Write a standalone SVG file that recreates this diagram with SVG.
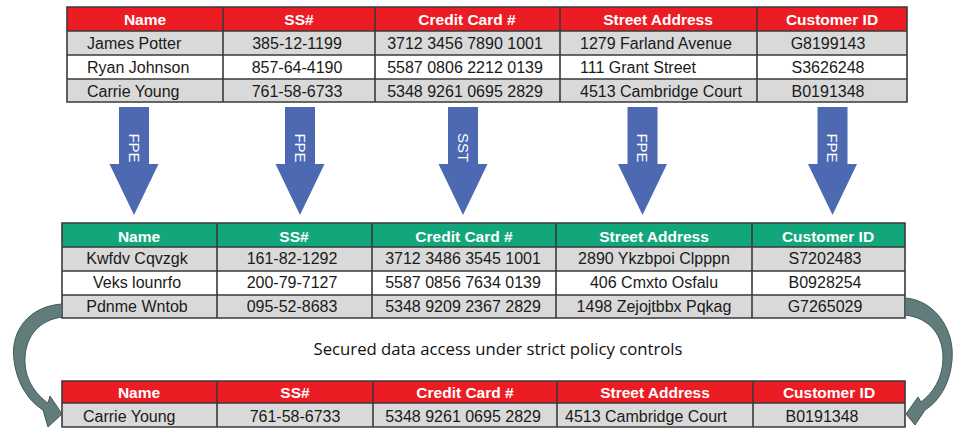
<svg xmlns="http://www.w3.org/2000/svg" width="958" height="428" viewBox="0 0 958 428">
<style>
.hdr-red{fill:#ec1c24}
.hdr-grn{fill:#12a67b}
.gray{fill:#d9d9d9}
.white{fill:#ffffff}
.grid{stroke:#3a3a3a;stroke-width:1.6;fill:none}
.ht{font-family:"Liberation Sans",Arial,sans-serif;font-weight:bold;font-size:15.5px;fill:#ffffff;text-anchor:middle}
.td{font-family:"Liberation Sans",Arial,sans-serif;font-size:16px;fill:#1a1a1a}
.c{text-anchor:middle}
.l{text-anchor:start}
.blue{fill:#4d69b2}
.lbl{font-family:"Liberation Sans",Arial,sans-serif;font-size:15px;fill:#ffffff;text-anchor:middle;dominant-baseline:central}
.curve{fill:#617c7a;stroke:#3f5b5a;stroke-width:1}
.cap{font-family:"Open Sans","Liberation Sans",sans-serif;font-size:16px;fill:#111111;text-anchor:middle}
</style>
<defs>
<path id="down" d="M -15 107 L 15 107 L 15 164 L 24.5 164 L 0 215 L -24.5 164 L -15 164 Z"/>
</defs>

<g id="table-original">
<rect class="hdr-red" x="67" y="7" width="840" height="24"/>
<rect class="gray" x="67" y="31" width="840" height="24"/>
<rect class="white" x="67" y="55" width="840" height="24"/>
<rect class="gray" x="67" y="79" width="840" height="23"/>
<path class="grid" d="M67 7H907V102H67Z M67 31H907 M67 55H907 M67 79H907 M223 7V102 M375 7V102 M560 7V102 M757 7V102"/>
<text class="ht" x="145" y="25">Name</text>
<text class="ht" x="299" y="25">SS#</text>
<text class="ht" x="467" y="25">Credit Card #</text>
<text class="ht" x="658" y="25">Street Address</text>
<text class="ht" x="832" y="25">Customer ID</text>
<text class="td l" x="87" y="49">James Potter</text>
<text class="td c" x="297" y="49">385-12-1199</text>
<text class="td c" x="465" y="49">3712 3456 7890 1001</text>
<text class="td l" x="580" y="49">1279 Farland Avenue</text>
<text class="td c" x="828" y="49">G8199143</text>
<text class="td l" x="87" y="73">Ryan Johnson</text>
<text class="td c" x="297" y="73">857-64-4190</text>
<text class="td c" x="465" y="73">5587 0806 2212 0139</text>
<text class="td l" x="580" y="73">111 Grant Street</text>
<text class="td c" x="828" y="73">S3626248</text>
<text class="td l" x="87" y="97">Carrie Young</text>
<text class="td c" x="297" y="97">761-58-6733</text>
<text class="td c" x="465" y="97">5348 9261 0695 2829</text>
<text class="td l" x="580" y="97">4513 Cambridge Court</text>
<text class="td c" x="828" y="97">B0191348</text>
</g>

<g id="table-protected">
<rect class="hdr-grn" x="62" y="223" width="843" height="24"/>
<rect class="gray" x="62" y="247" width="843" height="24"/>
<rect class="white" x="62" y="271" width="843" height="24"/>
<rect class="gray" x="62" y="295" width="843" height="23"/>
<path class="grid" d="M62 223H905V318H62Z M62 247H905 M62 271H905 M62 295H905 M217 223V318 M372 223V318 M556 223V318 M752 223V318"/>
<text class="ht" x="139" y="242">Name</text>
<text class="ht" x="294" y="242">SS#</text>
<text class="ht" x="464" y="242">Credit Card #</text>
<text class="ht" x="654" y="242">Street Address</text>
<text class="ht" x="828" y="242">Customer ID</text>
<text class="td c" x="137" y="264">Kwfdv Cqvzgk</text>
<text class="td c" x="292" y="264">161-82-1292</text>
<text class="td c" x="463" y="264">3712 3486 3545 1001</text>
<text class="td c" x="654" y="264">2890 Ykzbpoi Clpppn</text>
<text class="td c" x="825" y="264">S7202483</text>
<text class="td c" x="137" y="288">Veks lounrfo</text>
<text class="td c" x="292" y="288">200-79-7127</text>
<text class="td c" x="463" y="288">5587 0856 7634 0139</text>
<text class="td c" x="654" y="288">406 Cmxto Osfalu</text>
<text class="td c" x="825" y="288">B0928254</text>
<text class="td c" x="137" y="312">Pdnme Wntob</text>
<text class="td c" x="292" y="312">095-52-8683</text>
<text class="td c" x="463" y="312">5348 9209 2367 2829</text>
<text class="td c" x="654" y="312">1498 Zejojtbbx Pqkag</text>
<text class="td c" x="825" y="312">G7265029</text>
</g>

<g id="table-access">
<rect class="hdr-red" x="62" y="381" width="843" height="22"/>
<rect class="gray" x="62" y="403" width="843" height="24"/>
<path class="grid" d="M62 381H905V427H62Z M62 403H905 M217 381V427 M373 381V427 M557 381V427 M753 381V427"/>
<text class="ht" x="139" y="398">Name</text>
<text class="ht" x="295" y="398">SS#</text>
<text class="ht" x="465" y="398">Credit Card #</text>
<text class="ht" x="655" y="398">Street Address</text>
<text class="ht" x="829" y="398">Customer ID</text>
<text class="td l" x="83" y="422">Carrie Young</text>
<text class="td c" x="295" y="422">761-58-6733</text>
<text class="td c" x="463" y="422">5348 9261 0695 2829</text>
<text class="td l" x="565" y="422">4513 Cambridge Court</text>
<text class="td c" x="822" y="422">B0191348</text>
</g>

<g id="caption">
<text class="cap" x="498" y="355" textLength="369" lengthAdjust="spacingAndGlyphs">Secured data access under strict policy controls</text>
</g>

<g id="connectors">
<use href="#down" class="blue" x="134"/>
<use href="#down" class="blue" x="300"/>
<use href="#down" class="blue" x="463"/>
<use href="#down" class="blue" x="642.5"/>
<use href="#down" class="blue" x="832.5"/>
<text class="lbl" transform="translate(134 148) rotate(90)">FPE</text>
<text class="lbl" transform="translate(300 148) rotate(90)">FPE</text>
<text class="lbl" transform="translate(463 147.5) rotate(90)">SST</text>
<text class="lbl" transform="translate(642.5 148) rotate(90)">FPE</text>
<text class="lbl" transform="translate(832.5 148) rotate(90)">FPE</text>
<path class="curve" d="M62 304 C30 306 10 330 14 360 C17 385 30 402 43 410 L48 427 L62 414 L50 396 L48 403 C35 394 24 378 25 358 C26 335 40 320 62 317 Z"/>
<path class="curve" d="M905 298 C935 300 955 330 952 360 C950 385 938 402 925 410 L915 425 L906 414 L918 397 L921 402 C933 393 943 378 943 358 C943 335 930 318 905 315 Z"/>
</g>
</svg>
